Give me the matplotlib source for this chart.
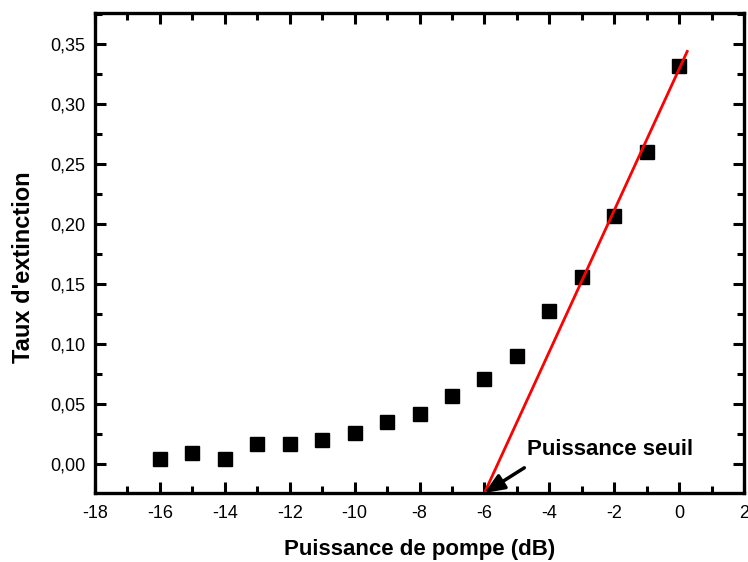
import matplotlib
matplotlib.use("Agg")
import matplotlib.pyplot as plt
from matplotlib.ticker import MultipleLocator, FuncFormatter

plt.rcParams['font.family'] = ['Liberation Sans', 'DejaVu Sans']
plt.rcParams['axes.unicode_minus'] = False

# measured points
pump_db = [-16, -15, -14, -13, -12, -11, -10, -9, -8, -7, -6, -5, -4, -3, -2, -1, 0]
extinction = [0.004, 0.0095, 0.004, 0.017, 0.017, 0.020, 0.026, 0.035, 0.042,
              0.057, 0.071, 0.090, 0.128, 0.156, 0.207, 0.260, 0.332]

# linear fit drawn in red (end points)
fit_x = [-6.0, 0.25]
fit_y = [-0.024, 0.344]

fig = plt.figure(figsize=(7.48, 5.62), dpi=100)
ax = fig.add_axes([95 / 748, 69 / 562, 649 / 748, 480 / 562])

ax.plot(pump_db, extinction, 's', color='black', markersize=10, linestyle='none')
ax.plot(fit_x, fit_y, color='red', linewidth=2)

ax.set_xlim(-18, 2)
ax.set_ylim(-0.024, 0.376)

ax.xaxis.set_major_locator(MultipleLocator(2))
ax.xaxis.set_minor_locator(MultipleLocator(1))
ax.yaxis.set_major_locator(MultipleLocator(0.05))
ax.yaxis.set_minor_locator(MultipleLocator(0.025))
ax.yaxis.set_major_formatter(FuncFormatter(lambda v, p: f"{v:.2f}".replace('.', ',')))

ax.tick_params(which='both', direction='in', top=True, right=True, width=2.2, labelsize=13)
ax.tick_params(which='major', length=8)
ax.tick_params(axis='x', which='major', pad=9)
ax.tick_params(axis='y', which='major', pad=7)
ax.tick_params(which='minor', length=5)
for s in ax.spines.values():
    s.set_linewidth(2.4)

ax.set_xlabel("Puissance de pompe (dB)", fontsize=16, fontweight='bold', labelpad=12)
ax.set_ylabel("Taux d'extinction", fontsize=17, fontweight='bold')
ax.yaxis.set_label_coords(-0.093, 0.47)

ax.text(-4.68, 0.0075, "Puissance seuil", fontsize=16, fontweight='bold',
        ha='left', va='baseline')
ax.annotate("", xy=(-6, -0.024), xytext=(-4.77, -0.003),
            arrowprops=dict(arrowstyle='-|>,head_length=1.2,head_width=0.5',
                            color='black', lw=2.5, mutation_scale=10,
                            shrinkA=0, shrinkB=0),
            annotation_clip=False)

fig.savefig("out.png", dpi=100)
